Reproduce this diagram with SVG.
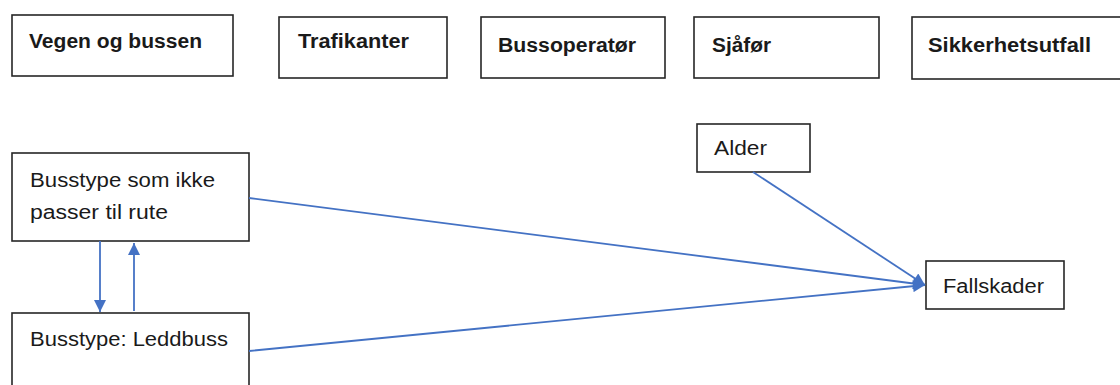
<svg xmlns="http://www.w3.org/2000/svg" width="1120" height="385" viewBox="0 0 1120 385">
  <style>
    .box { fill: #ffffff; stroke: #262626; stroke-width: 1.6; }
    .head { font-family: "Liberation Sans", Arial, sans-serif; font-weight: bold; font-size: 20px; fill: #1a1a1a; }
    .label { font-family: "Liberation Sans", Arial, sans-serif; font-size: 20px; fill: #1a1a1a; }
    .link { stroke: #4472C4; stroke-width: 1.8; fill: none; marker-end: url(#arrow); }
  </style>
  <defs>
    <marker id="arrow" viewBox="0 0 10 10" refX="10" refY="5" markerWidth="14" markerHeight="12" markerUnits="userSpaceOnUse" orient="auto">
      <path d="M0,0 L10,5 L0,10 Z" fill="#4472C4"/>
    </marker>
  </defs>
  <rect width="1120" height="385" fill="#ffffff"/>

  <!-- Category headers -->
  <g id="vegen-og-bussen">
    <rect class="box" x="12" y="15" width="221" height="61"/>
    <text class="head" x="29" y="48" textLength="173" lengthAdjust="spacingAndGlyphs">Vegen og bussen</text>
  </g>
  <g id="trafikanter">
    <rect class="box" x="279" y="17" width="168" height="61"/>
    <text class="head" x="298" y="48" textLength="111" lengthAdjust="spacingAndGlyphs">Trafikanter</text>
  </g>
  <g id="bussoperator">
    <rect class="box" x="481" y="17" width="184" height="61"/>
    <text class="head" x="498" y="52" textLength="138" lengthAdjust="spacingAndGlyphs">Bussoperatør</text>
  </g>
  <g id="sjafor">
    <rect class="box" x="694" y="17" width="185" height="61"/>
    <text class="head" x="712" y="52" textLength="59" lengthAdjust="spacingAndGlyphs">Sjåfør</text>
  </g>
  <g id="sikkerhetsutfall">
    <rect class="box" x="912" y="17" width="220" height="62"/>
    <text class="head" x="928" y="52" textLength="163" lengthAdjust="spacingAndGlyphs">Sikkerhetsutfall</text>
  </g>

  <!-- Factors and outcome -->
  <g id="busstype-rute">
    <rect class="box" x="12" y="153" width="237" height="88"/>
    <text class="label" x="30" y="187" textLength="185" lengthAdjust="spacingAndGlyphs">Busstype som ikke</text>
    <text class="label" x="30" y="219" textLength="138" lengthAdjust="spacingAndGlyphs">passer til rute</text>
  </g>
  <g id="busstype-leddbuss">
    <rect class="box" x="12" y="313" width="237" height="90"/>
    <text class="label" x="30" y="346" textLength="198" lengthAdjust="spacingAndGlyphs">Busstype: Leddbuss</text>
  </g>
  <g id="alder">
    <rect class="box" x="697" y="124" width="113" height="48"/>
    <text class="label" x="714" y="155" textLength="53" lengthAdjust="spacingAndGlyphs">Alder</text>
  </g>
  <g id="fallskader">
    <rect class="box" x="926" y="261" width="138" height="48"/>
    <text class="label" x="943" y="293" textLength="101" lengthAdjust="spacingAndGlyphs">Fallskader</text>
  </g>

  <!-- Connectors -->
  <g id="connectors">
    <line class="link" x1="100" y1="241" x2="100" y2="312"/>
    <line class="link" x1="134" y1="311" x2="134" y2="243"/>
    <line class="link" x1="249" y1="198" x2="925" y2="285"/>
    <line class="link" x1="249" y1="351" x2="925" y2="285"/>
    <line class="link" x1="753" y1="172" x2="925" y2="285"/>
  </g>
</svg>
